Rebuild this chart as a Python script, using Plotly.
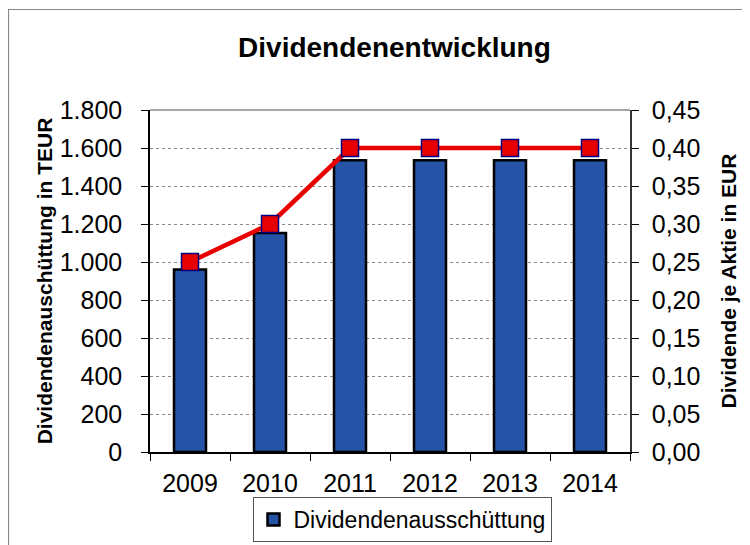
import plotly.graph_objects as go

years = ["2009", "2010", "2011", "2012", "2013", "2014"]
ausschuettung = [960, 1152, 1536, 1536, 1536, 1536]
dividende_je_aktie = [0.25, 0.30, 0.40, 0.40, 0.40, 0.40]

# the page body has an 8px margin, so figure coords = screen coords - 8
OFF = 8
W, H = 750 - OFF, 545 - OFF
L, R, T, B = 150 - OFF, 750 - 630, 110 - OFF, 545 - 452
pw, ph = W - L - R, H - T - B

def px(x):  # screen x -> paper
    return (x - OFF - L) / pw

def py(y):  # screen y -> paper
    return (H - B - (y - OFF)) / ph

FONT = "Liberation Sans, Arial, sans-serif"

fig = go.Figure()
fig.add_trace(go.Bar(
    x=years, y=ausschuettung, name="Dividendenausschüttung",
    marker=dict(color="#2553A5", line=dict(color="black", width=2.5)),
    width=0.4, yaxis="y",
))
fig.add_trace(go.Scatter(
    x=years, y=dividende_je_aktie, name="Dividende je Aktie",
    mode="lines+markers", yaxis="y2", showlegend=False,
    line=dict(color="#E80000", width=4.5),
    marker=dict(symbol="square", size=17, color="#E80000",
                line=dict(color="#000080", width=1.5)),
))

fig.update_layout(
    width=W, height=H,
    margin=dict(l=L, r=R, t=T, b=B, autoexpand=False),
    paper_bgcolor="white", plot_bgcolor="white",
    separators=",.",
    font=dict(family=FONT, size=25, color="black"),
    title=dict(text="<b>Dividendenentwicklung</b>", x=px(400), xanchor="center",
               y=1 - (47 - OFF) / H, yanchor="middle", font=dict(size=28, family=FONT)),
    xaxis=dict(
        showline=True, linecolor="black", linewidth=1.5,
        ticks="outside", ticklen=7, tickcolor="black", tickson="boundaries",
        tickfont=dict(size=25), automargin=False, ticklabelstandoff=8,
    ),
    yaxis=dict(
        range=[0, 1800], dtick=200, tickformat=",d",
        showline=True, linecolor="black", linewidth=1.5,
        ticks="outside", ticklen=7, tickcolor="black",
        showgrid=True, gridcolor="#888888", griddash="dot", gridwidth=1,
        zeroline=False, tickfont=dict(size=25), automargin=False,
        ticklabelstandoff=14,
        title=dict(text="<b>Dividendenauschüttung in TEUR</b>", font=dict(size=21), standoff=1),
    ),
    yaxis2=dict(
        range=[0, 0.45], dtick=0.05, tickformat=".2f", overlaying="y", side="right",
        showline=True, linecolor="#333333", linewidth=1.5,
        ticks="outside", ticklen=7, tickcolor="black",
        showgrid=False, zeroline=False, tickfont=dict(size=25), automargin=False,
        ticklabelstandoff=8,
        title=dict(text="<b>Dividende je Aktie in EUR</b>", font=dict(size=21), standoff=22),
    ),
    legend=dict(
        x=px(402), xanchor="center", y=py(542), yanchor="bottom",
        orientation="h", bordercolor="#555555", borderwidth=1,
        font=dict(size=23), bgcolor="white",
        itemwidth=30,
    ),
    showlegend=True,
    shapes=[
        dict(type="line", xref="paper", yref="paper", x0=0, x1=1, y0=1, y1=1,
             line=dict(color="#888888", width=1.5)),
        dict(type="rect", xref="paper", yref="paper",
             x0=px(8.5), x1=px(770), y0=py(9.5), y1=py(570),
             line=dict(color="#888888", width=1.2)),
    ],
)

fig.write_html("out.html")
